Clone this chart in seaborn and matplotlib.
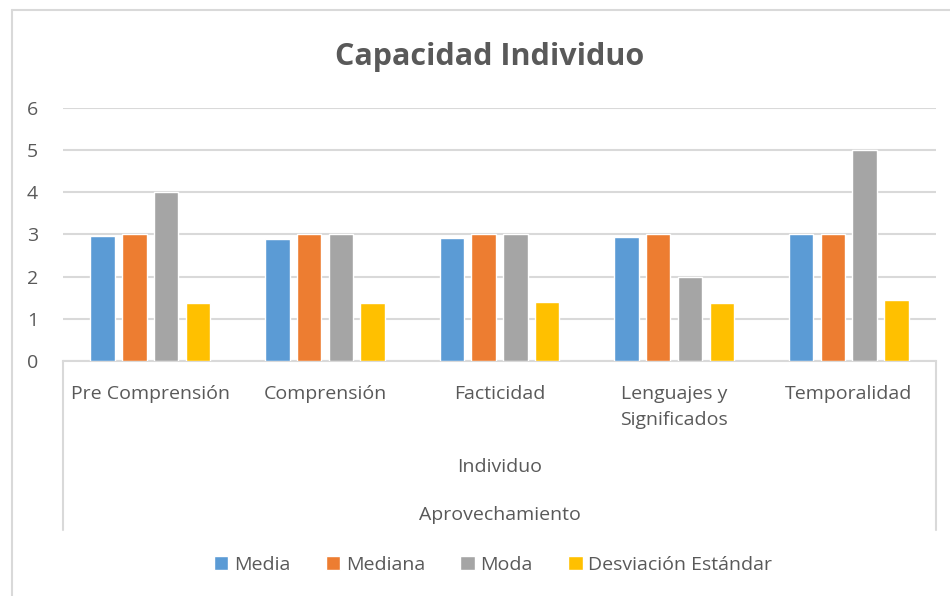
import matplotlib
matplotlib.use('Agg')
import matplotlib.pyplot as plt
import seaborn as sns
import pandas as pd
from matplotlib.lines import Line2D

categorias = ['Pre Comprensión', 'Comprensión', 'Facticidad', 'Lenguajes y\nSignificados', 'Temporalidad']
series = ['Media', 'Mediana', 'Moda', 'Desviación Estándar']
media = [2.96, 2.90, 2.91, 2.93, 3.00]
mediana = [3, 3, 3, 3, 3]
moda = [4, 3, 3, 2, 5]
desviacion = [1.38, 1.38, 1.41, 1.38, 1.45]
colores = ['#5B9BD5', '#ED7D31', '#A5A5A5', '#FFC000']
gris = '#595959'

filas = []
for serie, valores in zip(series, [media, mediana, moda, desviacion]):
    for cat, v in zip(categorias, valores):
        filas.append({'categoria': cat, 'serie': serie, 'valor': v})
df = pd.DataFrame(filas)

sns.set_style('white')
plt.rcParams['font.family'] = ['Open Sans', 'DejaVu Sans']

fig = plt.figure(figsize=(9.5, 5.96), dpi=100)
ax = fig.add_axes([0.0663, 0.3943, 0.919, 0.4245])

sns.barplot(data=df, x='categoria', y='valor', hue='serie', order=categorias, hue_order=series,
            palette=colores, width=0.727, gap=0.23, ax=ax, legend=True, saturation=1, zorder=3)

ax.set_ylim(0, 6)
ax.set_xlim(-0.5, 4.5)
ax.set_yticks(range(0, 7))
ax.yaxis.grid(True, color='#d9d9d9', linewidth=1.5, zorder=0)
ax.set_axisbelow(True)
for lado in ['top', 'right', 'left']:
    ax.spines[lado].set_visible(False)
ax.spines['bottom'].set_color('#d9d9d9')
ax.spines['bottom'].set_linewidth(1.5)
ax.tick_params(axis='y', length=0, pad=18, labelsize=14, labelcolor=gris)
ax.tick_params(axis='x', length=0, pad=17, labelsize=14, labelcolor=gris)
ax.set_xlabel('')
ax.set_ylabel('')
for lbl in ax.get_xticklabels():
    lbl.set_linespacing(1.6)

# niveles del eje de categorias
ax.text(0.5, -0.42, 'Individuo', transform=ax.transAxes, ha='center', va='center', fontsize=14, color=gris)
ax.text(0.5, -0.61, 'Aprovechamiento', transform=ax.transAxes, ha='center', va='center', fontsize=14, color=gris)
for xx in [0, 1]:
    ax.plot([xx, xx], [0, -0.668], transform=ax.transAxes, color='#d9d9d9', lw=1.5, clip_on=False)

fig.text(0.515, 0.905, 'Capacidad Individuo', ha='center', va='center', fontsize=22,
         fontweight='bold', color=gris)

leg = ax.legend(loc='center', bbox_to_anchor=(0.519, 0.052), bbox_transform=fig.transFigure,
                ncol=4, frameon=False, fontsize=14, handlelength=0.75, handleheight=0.75,
                handletextpad=0.3, columnspacing=1.8)
for t in leg.get_texts():
    t.set_color(gris)

# borde exterior del grafico
fig.add_artist(Line2D([12 / 950, 1], [1 - 10 / 596, 1 - 10 / 596], color='#d9d9d9', lw=1.5))
fig.add_artist(Line2D([12 / 950, 12 / 950], [0, 1 - 10 / 596], color='#d9d9d9', lw=1.5))

fig.savefig('out.png', dpi=100)
